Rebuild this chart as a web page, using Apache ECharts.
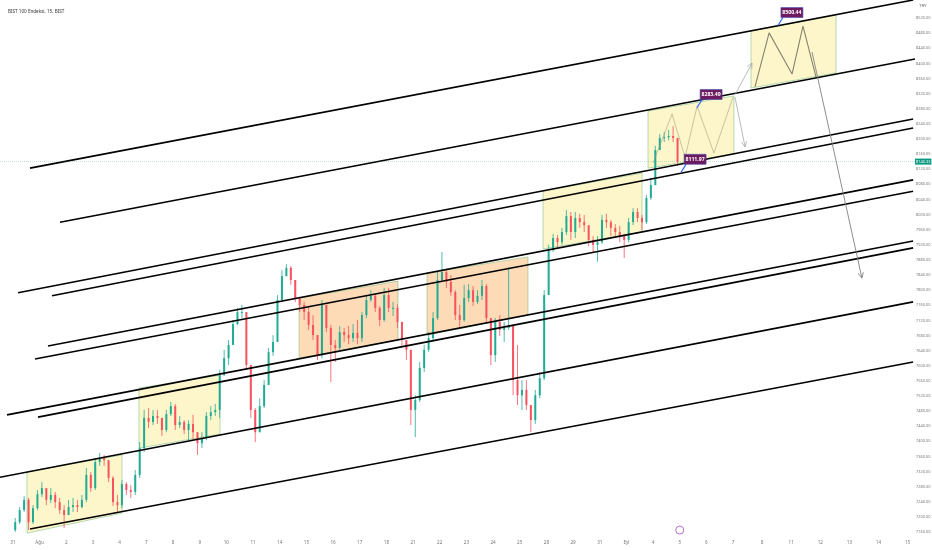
<!DOCTYPE html>
<html><head><meta charset="utf-8">
<script src="https://cdn.jsdelivr.net/npm/echarts@6/dist/echarts.min.js"></script>
<style>html,body{margin:0;padding:0;background:#fff}#c{width:932px;height:550px}</style>
</head><body><div id="c"></div>
<script>
// ---- data ----
const dayLabels = ['31','Ağu','2','3','4','7','8','9','10','11','14','15','16','17','18','21','22','23','24','25','28','29','31','Eyl','4','5','6','7','8','11','12','13','14','15'];
const yTicks = [7160,7200,7240,7280,7320,7360,7400,7440,7480,7520,7560,7600,7640,7680,7720,7760,7800,7840,7880,7920,7960,8000,8040,8080,8120,8160,8200,8240,8280,8320,8360,8400,8440,8480,8520];
const firstOpen = 7165;
const closes = [
 7186,7218,7245,7186,7223,7260, 7276,7245,7258,7239,7218,7205, 7226,7231,7226,7245,7311,7276,
 7345,7356,7350,7303,7239,7231, 7287,7271,7266,7311,7382,7462, 7451,7467,7462,7430,7472,7493,
 7443,7451,7430,7446,7424,7395, 7409,7467,7477,7483,7575,7620, 7655,7710,7742,7742,7602,7483,
 7424,7493,7549,7636,7663,7774, 7837,7859,7827,7779,7761,7742, 7708,7681,7628,7761,7700,7655,
 7647,7689,7681,7673,7687,7673, 7734,7774,7785,7753,7721,7787, 7753,7753,7716,7668,7642,7483,
 7509,7594,7642,7673,7726,7827, 7848,7822,7795,7734,7721,7779, 7800,7769,7785,7811,7726,7628,
 7716,7695,7700,7708,7562,7522, 7536,7496,7456,7522,7567,7787, 7906,7938,7927,7954,7996,7954,
 7991,7980,7972,7933,7920,7927, 7986,7980,7965,7954,7943,7933, 7980,8007,7991,7980,8044,8078,
 8171,8203,8205,8208,8203,8140.33];
const highs = [
 7197,7226,7255,7250,7231,7271, 7292,7271,7276,7266,7250,7231, 7245,7250,7245,7258,7329,7319,
 7356,7369,7364,7350,7308,7258, 7297,7292,7284,7324,7398,7483, 7488,7483,7483,7462,7483,7504,
 7499,7467,7456,7456,7470,7417, 7424,7477,7493,7499,7589,7642, 7668,7721,7753,7761,7742,7589,
 7488,7514,7562,7647,7681,7787, 7853,7869,7864,7827,7779,7769, 7758,7734,7668,7774,7761,7708,
 7668,7705,7700,7705,7710,7721, 7742,7785,7800,7790,7758,7806, 7806,7769,7763,7716,7668,7642,
 7522,7610,7655,7689,7742,7848, 7901,7853,7840,7800,7761,7814, 7816,7811,7800,7827,7816,7721,
 7726,7734,7716,7861,7708,7655, 7562,7562,7496,7536,7583,7800, 7920,7949,7946,7965,8012,8007,
 8007,8002,7999,7965,7943,7943, 7999,8002,7986,7975,7970,7949, 7991,8017,8017,7999,8052,8097,
 8182,8213,8219,8224,8234,8203];
const lows = [
 7160,7181,7213,7165,7181,7218, 7252,7231,7237,7223,7208,7170, 7205,7213,7213,7223,7239,7266,
 7271,7335,7335,7292,7229,7213, 7223,7258,7250,7258,7303,7372, 7435,7443,7446,7414,7424,7467,
 7430,7435,7419,7403,7403,7364, 7382,7403,7456,7467,7462,7573, 7602,7655,7708,7726,7589,7462,
 7398,7456,7488,7562,7626,7689, 7779,7837,7814,7769,7742,7721, 7695,7668,7615,7620,7689,7557,
 7610,7642,7663,7657,7663,7657, 7663,7726,7769,7742,7705,7716, 7742,7732,7700,7652,7615,7443,
 7411,7504,7583,7636,7668,7721, 7822,7806,7785,7721,7700,7716, 7769,7758,7763,7774,7716,7602,
 7610,7679,7663,7695,7522,7496, 7483,7483,7424,7446,7514,7562, 7787,7901,7912,7920,7946,7933,
 7938,7965,7954,7917,7901,7875, 7922,7965,7943,7938,7927,7885, 7927,7972,7980,7959,7975,8039,
 8078,8171,8192,8197,8192,8129];
const lastPrice = 8140.33;
// channel lines: [dayStart, priceStart, dayEnd, priceEnd]
const channels = [
 [0.637,8123,33.75,8568],[1.762,7980,33.82,8412],[0.19,7793,33.75,8253],[1.462,7785,33.75,8229],
 [1.312,7652,33.75,8092],[0.825,7618,33.75,8062],[-0.225,7470,33.75,7930],[0.937,7464,33.75,7912],
 [-0.4875,7305,33.75,7769],[0.637,7168,33.75,7610]];
// zones: [dayLeft, dayRight, topLeft, topRight, bottomLeft, bottomRight, kind]
const zones = [
 [0.525,4.087,7319,7364,7157,7210,0],[4.724,7.762,7541,7575,7382,7419,0],
 [10.724,14.436,7779,7824,7620,7668,1],[15.523,19.31,7845,7888,7681,7734,1],
 [19.873,23.585,8062,8110,7909,7954,0],[23.81,27.03,8274,8314,8123,8160,0],
 [27.67,30.86,8486,8528,8335,8375,0]];
const pathNear = [[24.0,8137],[24.71,8266],[25.2,8152],[25.65,8287],[26.28,8163],[27.0,8311]];
const pathFar = [[27.82,8338],[28.35,8481],[29.21,8372],[29.62,8499],[30.11,8364]];
const arrowsLight = [[27.07,8311,27.45,8179],[27.07,8317,27.71,8401]];
const arrowsDark = [[29.96,8430,31.83,7832]];
const notes = [[28.68,8500.44],[25.65,8283.49],[25.05,8111.97]];
const eventMark = [[25,7165]];

// ---- layout helpers ----
const PER_DAY = 6, FUT = 1.09;
const dayPos = i => i <= 27 ? i : 27 + (i - 27) * FUT;
const UP = '#22ab94', DOWN = '#f7525f';
const FONT = 'Noto Sans';

const candles = closes.map((c, i) => {
  const d = Math.floor(i / PER_DAY), k = i % PER_DAY;
  const o = i === 0 ? firstOpen : closes[i - 1];
  return [d + (k + 0.5) / PER_DAY, o, c, Math.min(lows[i], o, c), Math.max(highs[i], o, c)];
});
const xTickVals = dayLabels.map((_, i) => dayPos(i));

const chart = echarts.init(document.getElementById('c'));
chart.setOption({
  animation: false,
  backgroundColor: '#fff',
  title: { text: 'BIST 100 Endeksi, 15, BIST', left: 3, top: 4,
    textStyle: { fontSize: 4.6, fontWeight: 'normal', color: '#333', fontFamily: FONT } },
  graphic: [{ type: 'text', left: 919, top: 4, style: { text: 'TRY', fontSize: 4.3, fill: '#666', fontFamily: FONT } }],
  grid: { left: 0, right: 17, top: 0, bottom: 15, outerBoundsMode: 'none', containLabel: false },
  xAxis: { type: 'value', min: -0.4875, max: 33.82,
    axisLine: { show: false }, axisTick: { show: false }, splitLine: { show: false },
    axisLabel: { customValues: xTickVals, fontSize: 4.6, color: '#777', margin: 5, fontFamily: FONT,
      formatter: v => { const i = xTickVals.findIndex(t => Math.abs(t - v) < 1e-6); return i >= 0 ? dayLabels[i] : ''; } } },
  yAxis: { type: 'value', position: 'right', min: 7152, max: 8568,
    axisLine: { show: false }, axisTick: { show: false }, splitLine: { show: false },
    axisLabel: { customValues: yTicks, fontSize: 3.9, color: '#777', margin: 1, fontFamily: FONT,
      formatter: v => v.toFixed(2) } },
  series: [
    { type: 'custom', z: 1, data: zones, encode: { x: [0, 1], y: [2, 3, 4, 5] },
      renderItem: (p, api) => {
        const a = api.coord([api.value(0), api.value(2)]), b = api.coord([api.value(1), api.value(3)]);
        const c = api.coord([api.value(1), api.value(5)]), d = api.coord([api.value(0), api.value(4)]);
        const orange = api.value(6) === 1;
        return { type: 'polygon', shape: { points: [a, b, c, d] },
          style: { fill: orange ? 'rgba(247,170,80,0.42)' : 'rgba(252,236,140,0.45)',
                   stroke: 'rgba(90,175,100,0.55)', lineWidth: 0.8 } };
      } },
    { type: 'custom', z: 2, data: candles, encode: { x: 0, y: [1, 2, 3, 4] },
      renderItem: (p, api) => {
        const x = api.value(0), o = api.value(1), c = api.value(2), l = api.value(3), h = api.value(4);
        const ph = api.coord([x, h]), pl = api.coord([x, l]), po = api.coord([x, o]), pc = api.coord([x, c]);
        const col = c >= o ? UP : DOWN, w = 2;
        const top = Math.min(po[1], pc[1]), hh = Math.max(1, Math.abs(po[1] - pc[1]));
        return { type: 'group', children: [
          { type: 'line', shape: { x1: ph[0], y1: ph[1], x2: pl[0], y2: pl[1] }, style: { stroke: col, lineWidth: 0.8 } },
          { type: 'rect', shape: { x: ph[0] - w / 2, y: top, width: w, height: hh }, style: { fill: col } }] };
      } },
    { type: 'line', z: 3, data: pathNear, symbol: 'none', lineStyle: { color: 'rgba(150,150,120,0.6)', width: 0.9 },
      markLine: { silent: true, symbol: 'none', data: [{ yAxis: lastPrice }],
        lineStyle: { color: 'rgba(8,153,129,0.25)', type: 'dotted', width: 1 },
        label: { show: true, position: 'end', distance: 0, formatter: lastPrice.toFixed(2), color: '#fff',
          backgroundColor: '#089981', fontSize: 3.9, padding: [1, 1], fontFamily: FONT } } },
    { type: 'line', z: 3, data: pathFar, symbol: 'none', lineStyle: { color: 'rgba(110,110,90,0.85)', width: 1.1 } },
    { type: 'custom', z: 4, data: channels, encode: { x: [0, 2], y: [1, 3] },
      renderItem: (p, api) => {
        const a = api.coord([api.value(0), api.value(1)]), b = api.coord([api.value(2), api.value(3)]);
        return { type: 'line', shape: { x1: a[0], y1: a[1], x2: b[0], y2: b[1] }, style: { stroke: '#000', lineWidth: 1.6 } };
      } },
    ...[[arrowsLight, 'rgba(170,170,170,0.8)'], [arrowsDark, 'rgba(130,130,130,0.9)']].map(([arr, col]) => ({
      type: 'custom', z: 5, data: arr, encode: { x: [0, 2], y: [1, 3] },
      renderItem: (p, api) => {
        const a = api.coord([api.value(0), api.value(1)]), b = api.coord([api.value(2), api.value(3)]);
        const ang = Math.atan2(b[1] - a[1], b[0] - a[0]), L = 6, s = 0.45;
        const h1 = [b[0] - L * Math.cos(ang - s), b[1] - L * Math.sin(ang - s)];
        const h2 = [b[0] - L * Math.cos(ang + s), b[1] - L * Math.sin(ang + s)];
        return { type: 'group', children: [
          { type: 'line', shape: { x1: a[0], y1: a[1], x2: b[0], y2: b[1] }, style: { stroke: col, lineWidth: 1 } },
          { type: 'polyline', shape: { points: [h1, b, h2] }, style: { stroke: col, lineWidth: 1, fill: null } }] };
      } })),
    { type: 'custom', z: 6, data: notes, encode: { x: 0, y: 1 },
      renderItem: (p, api) => {
        const t = api.coord([api.value(0), api.value(1)]);
        return { type: 'group', children: [
          { type: 'line', shape: { x1: t[0], y1: t[1], x2: t[0] + 5, y2: t[1] - 8 }, style: { stroke: '#2962ff', lineWidth: 1.2 } },
          { type: 'rect', shape: { x: t[0] + 3, y: t[1] - 18, width: 22, height: 10 },
            style: { fill: '#6e1a5e', stroke: '#4a4fb0', lineWidth: 0.6 } },
          { type: 'text', style: { x: t[0] + 14, y: t[1] - 13, text: api.value(1).toFixed(2), fill: '#fff',
            fontSize: 5.2, fontWeight: 'bold', fontFamily: FONT, align: 'center', verticalAlign: 'middle' } }] };
      } },
    { type: 'scatter', z: 6, data: eventMark, symbol: 'circle', symbolSize: 8,
      itemStyle: { color: '#fff', borderColor: '#a34bc1', borderWidth: 1 } }
  ]
});
</script></body></html>
